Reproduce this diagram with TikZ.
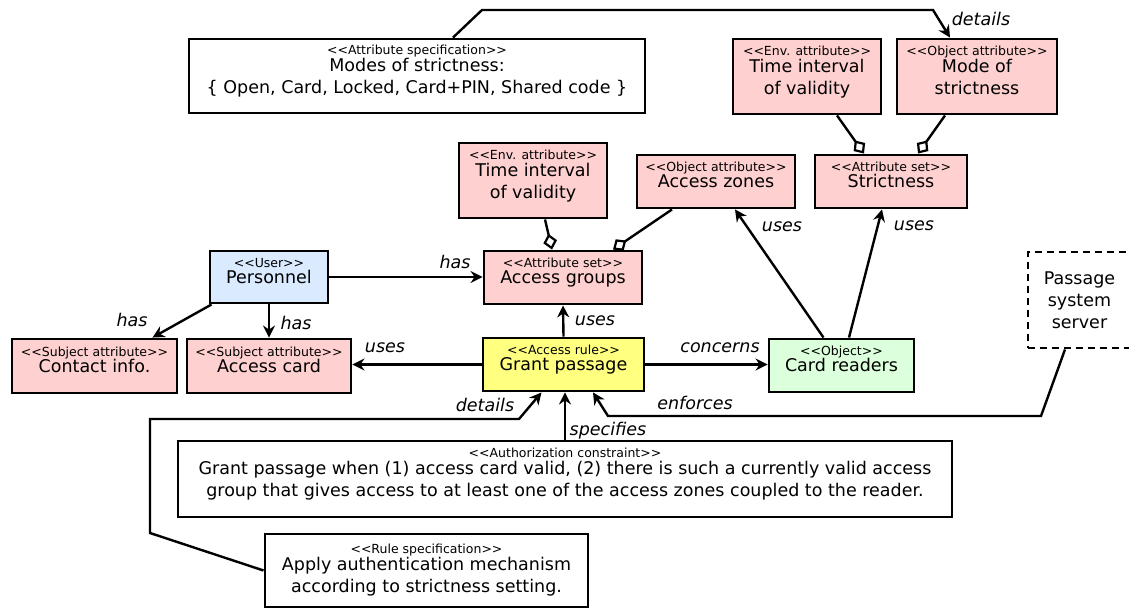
\documentclass[tikz,border=0pt]{standalone}
\usepackage{fontspec}
\setmainfont{DejaVu Sans}
\usetikzlibrary{arrows.meta,calc}
\definecolor{attrpink}{RGB}{255,208,208}
\definecolor{userblue}{RGB}{218,234,255}
\definecolor{ruleyellow}{RGB}{255,255,128}
\definecolor{objgreen}{RGB}{220,255,220}
\newcommand{\stt}[1]{{\fontsize{12.5}{14}\selectfont <{}<#1>{}>}}
\newcommand{\dn}{\rule[-13pt]{0pt}{0pt}}
\tikzset{
  box/.style={draw, line width=2.9pt, align=center, inner sep=0pt,
    font=\fontsize{17.5}{22}\selectfont},
  pinkbox/.style={box, fill=attrpink},
  conn/.style={line width=2.4pt, -{Stealth[length=12pt,width=12pt,inset=4pt]}},
  agg/.style={line width=2.4pt, -{Diamond[fill=white,length=16pt,width=14pt,line width=2.2pt]}},
  lbl/.style={font=\fontsize{17.5}{20}\selectfont\itshape, inner sep=0pt}
}
\begin{document}
\begin{tikzpicture}[x=1pt,y=-1pt]
\useasboundingbox[fill=white] (0,0) rectangle (1129,610);

% boxes
\node[box, fill=white, minimum width=456, minimum height=74] (spec) at (417,76)
  {\stt{Attribute specification}\\[-5pt]Modes of strictness:\\\{ Open, Card, Locked, Card+PIN, Shared code \}\dn};
\node[pinkbox, minimum width=148, minimum height=75] (tivb) at (807,76.5)
  {\stt{Env. attribute}\\[-5pt]Time interval\\of validity\dn};
\node[pinkbox, minimum width=160, minimum height=75] (mode) at (977,76.5)
  {\stt{Object attribute}\\[-5pt]Mode of\\strictness\dn};
\node[pinkbox, minimum width=152, minimum height=53] (strict) at (891,181.5)
  {\stt{Attribute set}\\[-6pt]Strictness\dn};
\node[pinkbox, minimum width=158, minimum height=53] (zones) at (716,181.5)
  {\stt{Object attribute}\\[-6pt]Access zones\dn};
\node[pinkbox, minimum width=148, minimum height=75] (tiva) at (533,180.5)
  {\stt{Env. attribute}\\[-5pt]Time interval\\of validity\dn};
\node[pinkbox, minimum width=158, minimum height=53] (groups) at (563,277.5)
  {\stt{Attribute set}\\[-6pt]Access groups\dn};
\node[box, fill=userblue, minimum width=118, minimum height=52] (pers) at (269,277)
  {\stt{User}\\[-6pt]Personnel\dn};
\node[pinkbox, minimum width=165, minimum height=54] (contact) at (94.5,366)
  {\stt{Subject attribute}\\[-6pt]Contact info.\dn};
\node[pinkbox, minimum width=164, minimum height=54] (card) at (269,366)
  {\stt{Subject attribute}\\[-6pt]Access card\dn};
\node[box, fill=ruleyellow, minimum width=161, minimum height=53] (grant) at (563.5,364.5)
  {\stt{Access rule}\\[-6pt]Grant passage\dn};
\node[box, fill=objgreen, minimum width=145, minimum height=53] (readers) at (841.5,365.5)
  {\stt{Object}\\[-6pt]Card readers\dn};
\node[box, fill=white, minimum width=774, minimum height=76] (auth) at (565,479)
  {\stt{Authorization constraint}\\[-5pt]Grant passage when (1) access card valid, (2) there is such a currently valid access\\group that gives access to at least one of the access zones coupled to the reader.\dn};
\node[box, fill=white, minimum width=323, minimum height=73] (rule) at (426.5,570.5)
  {\stt{Rule specification}\\[-5pt]Apply authentication mechanism\\according to strictness setting.};
\node[box, fill=white, dash pattern=on 7pt off 5pt, minimum width=103, minimum height=96] (server) at (1079.5,300)
  {Passage\\system\\server};

% connectors
\coordinate (d1) at (482,10);
\coordinate (d2) at (933,10);
\draw[conn] ([xshift=36pt]spec.north) -- (d1) -- (d2) -- ([xshift=-27pt]mode.north);
\node[lbl] (ldet1) at (981,19) {details};

\draw[agg] ([xshift=30pt]tivb.south) -- ([xshift=-27pt]strict.north);
\draw[agg] ([xshift=-32pt]mode.south) -- ([xshift=27pt]strict.north);
\draw[agg] ([xshift=12pt]tiva.south) -- ([xshift=-11pt]groups.north);
\draw[agg] ([xshift=-44pt]zones.south) -- ([xshift=50pt]groups.north);

\draw[conn] (pers.east) -- (pers.east -| groups.west);
\node[lbl] (lhas1) at (455,262) {has};
\draw[conn] (pers.south) -- (card.north);
\node[lbl] (lhas2) at (296,323) {has};
\draw[conn] ([xshift=3pt]pers.south west) -- ([xshift=-26pt]contact.north east);
\node[lbl] (lhas3) at (132,320) {has};

\draw[conn] (grant.north) -- (groups.south);
\node[lbl] (luses1) at (595,321) {uses};
\draw[conn] (grant.west) -- (grant.west -| card.east);
\node[lbl] (luses2) at (385,348) {uses};
\draw[conn] (grant.east) -- (grant.east -| readers.west);
\node[lbl] (lconc) at (720,348) {concerns};

\draw[conn] ([xshift=-18pt]readers.north) -- ([xshift=19pt]zones.south);
\node[lbl] (luses3) at (782,227) {uses};
\draw[conn] ([xshift=7.5pt]readers.north) -- ([xshift=-9pt]strict.south);
\node[lbl] (luses4) at (914,226) {uses};

\draw[conn] (auth.north) -- (auth.north |- grant.south);
\node[lbl] (lspec) at (608,431) {specifies};

\coordinate (r1) at (150,533);
\coordinate (r2) at (150,419);
\coordinate (r3) at (519,419);
\draw[conn] (rule.west) -- (r1) -- (r2) -- (r3) -- ([xshift=-22pt]grant.south);
\node[lbl] (ldet2) at (485,405) {details};

\coordinate (s1) at (1041,416);
\coordinate (s2) at (608,416);
\draw[conn] ([xshift=-14.5pt]server.south) -- (s1) -- (s2) -- ([xshift=29.5pt]grant.south);
\node[lbl] (lenf) at (695,403) {enforces};
\end{tikzpicture}
\end{document}
